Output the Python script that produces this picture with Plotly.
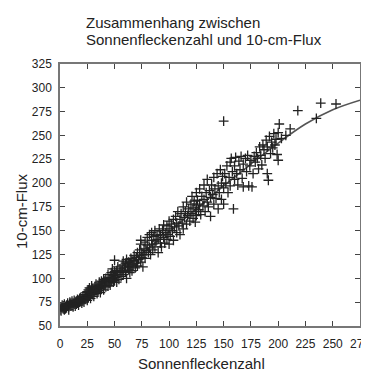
import plotly.graph_objects as go

# Sunspot number (x) and 10-cm flux (y)
sunspots = [0,1,1,2,2,3,3,4,4,5,5,6,6,7,7,8,8,9,9,10,10,11,11,12,12,13,13,14,14,15,15,16,16,17,17,18,18,19,19,20,20,21,21,22,22,23,23,24,24,25,25,25,
            26,26,27,27,28,28,29,29,30,30,31,31,32,32,33,33,34,34,35,35,36,36,37,37,38,38,39,40,40,41,41,42,42,43,44,44,45,45,46,46,47,47,48,48,49,49,50,50,50,
            51,52,52,53,53,54,55,55,56,57,57,58,58,59,60,60,61,61,62,63,63,64,64,65,65,66,66,67,68,68,69,70,70,71,71,72,73,73,74,74,75,75,76,74,
            77,77,78,78,79,80,80,81,82,82,83,84,84,85,85,86,87,87,88,89,90,90,91,92,92,93,94,95,95,96,97,98,98,99,100,100,100,
            101,102,103,104,104,105,106,107,107,108,109,110,110,111,112,113,113,114,115,116,116,117,118,119,120,120,121,122,122,123,124,124,125,125,125,
            126,127,128,128,129,130,131,132,132,133,134,135,135,136,137,138,138,139,140,141,141,142,143,144,145,145,146,147,148,148,149,150,150,150,
            151,152,153,154,155,156,156,157,158,159,160,160,161,162,163,164,165,166,167,168,168,170,171,172,173,174,175,176,178,
            177,179,180,181,182,183,184,185,186,187,188,189,190,190,191,192,193,194,195,196,197,198,199,200,200,201,
            203,207,211,218,235,239,253]
flux = [67,70,66,69,72,68,71,67,73,70,68,72,69,71,74,70,67,73,75,71,74,72,76,70,74,73,77,75,71,76,73,78,74,72,77,79,75,76,80,74,78,81,77,79,75,83,78,80,85,82,77,86,
        80,88,84,90,79,86,85,92,83,89,87,81,91,86,88,94,84,90,92,87,96,89,85,93,97,90,94,88,99,93,97,91,100,96,92,104,98,95,101,93,106,97,100,110,96,103,98,107,119,
        101,108,96,112,104,99,110,106,102,114,108,118,104,111,107,116,100,120,112,109,117,115,106,121,112,118,108,114,124,119,111,122,116,127,113,120,130,124,117,136,127,122,112,140,
        131,125,138,121,129,135,143,127,132,146,125,140,148,136,130,144,133,150,139,145,127,141,152,137,146,133,150,143,156,137,148,155,141,146,152,136,160,
        144,157,150,162,140,154,165,148,158,170,155,162,146,168,158,175,152,164,170,157,180,166,173,160,178,168,186,163,174,181,170,159,176,190,166,
        182,172,194,178,167,186,176,198,183,170,190,180,204,175,192,185,165,198,188,206,178,194,184,210,197,173,190,214,200,183,207,195,265,178,
        210,200,218,190,206,222,197,226,212,173,204,218,227,210,198,223,214,228,205,196,220,226,212,229,197,218,224,196,228,
        210,222,232,226,215,238,229,219,240,235,226,245,210,238,203,249,231,243,237,252,240,246,230,224,253,262,
        247,250,257,276,268,284,283]

# Fitted curve
fit_x = [0, 25, 50, 75, 100, 125, 150, 175, 200, 225, 250, 275]
fit_y = [68, 83, 103, 126, 149, 173, 197, 220, 242, 262, 277, 287]

x_ticks = list(range(0, 276, 25))
y_ticks = list(range(50, 326, 25))

fig = go.Figure()
fig.add_trace(go.Scatter(x=fit_x, y=fit_y, mode="lines", line=dict(color="#555", width=1.6, shape="spline"),
                         hoverinfo="skip", showlegend=False))
fig.add_trace(go.Scatter(x=sunspots, y=flux, mode="markers",
                         marker=dict(symbol="cross-thin", size=7, line=dict(color="#222", width=1.3)),
                         showlegend=False))

font_family = "Liberation Sans, Arial, sans-serif"
axis_common = dict(showgrid=False, zeroline=False, showline=True, linecolor="#777", linewidth=1.5,
                   mirror="ticks", ticks="inside", ticklen=5, tickcolor="#444", tickwidth=1.2,
                   tickfont=dict(family=font_family, size=12, color="#222"))
fig.update_xaxes(range=[0, 275], tickvals=x_ticks, ticktext=[str(v) for v in x_ticks], ticklabelstandoff=6,
                 ticklabeloverflow="allow", **axis_common)
fig.update_yaxes(range=[50, 325], tickvals=y_ticks, ticktext=[str(v) for v in y_ticks], ticklabelstandoff=4,
                 ticklabeloverflow="allow", **axis_common)

title_font = dict(family=font_family, size=15, color="#222")
fig.update_layout(
    width=369, height=373,
    margin=dict(l=52, r=7, t=56, b=55),
    paper_bgcolor="white", plot_bgcolor="white",
    annotations=[
        dict(text="Zusammenhang zwischen", x=0.081, y=1.1565, xref="paper", yref="paper",
             xanchor="left", yanchor="middle", showarrow=False, font=title_font),
        dict(text="Sonnenfleckenzahl und 10-cm-Flux", x=0.081, y=1.0954, xref="paper", yref="paper",
             xanchor="left", yanchor="middle", showarrow=False, font=title_font),
        dict(text="10-cm-Flux", x=-0.129, y=0.44, xref="paper", yref="paper", textangle=-90,
             xanchor="center", yanchor="middle", showarrow=False, font=title_font),
        dict(text="Sonnenfleckenzahl", x=0.471, y=-0.145, xref="paper", yref="paper",
             xanchor="center", yanchor="middle", showarrow=False, font=title_font),
    ],
)

fig.write_html("out.html")
